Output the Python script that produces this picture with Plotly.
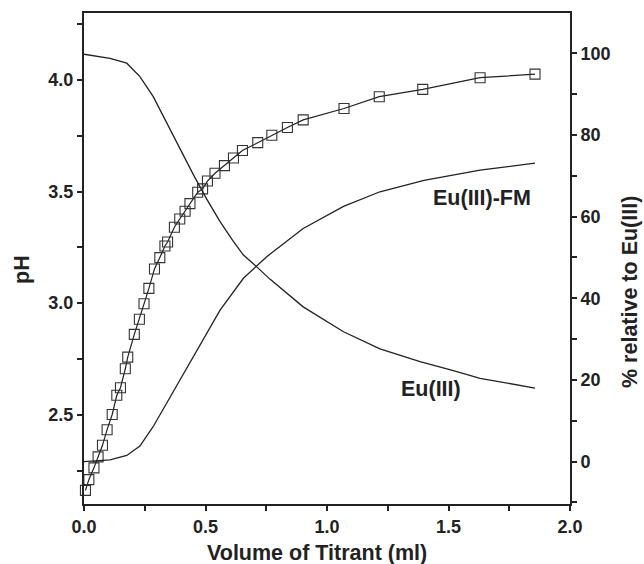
import plotly.graph_objects as go

# Titration data (pH vs volume of titrant)
titrant = [0.006, 0.020, 0.041, 0.058, 0.076, 0.095, 0.116, 0.135, 0.150, 0.170,
           0.180, 0.207, 0.228, 0.247, 0.267, 0.290, 0.312, 0.333, 0.344, 0.372,
           0.394, 0.416, 0.436, 0.468, 0.488, 0.508, 0.539, 0.578, 0.615, 0.652,
           0.715, 0.773, 0.837, 0.902, 1.070, 1.215, 1.394, 1.630, 1.856]
ph = [2.161, 2.209, 2.262, 2.311, 2.363, 2.433, 2.501, 2.587, 2.621, 2.706,
      2.758, 2.860, 2.928, 2.997, 3.066, 3.153, 3.204, 3.256, 3.274, 3.340,
      3.377, 3.412, 3.446, 3.497, 3.512, 3.547, 3.582, 3.616, 3.650, 3.684,
      3.719, 3.752, 3.787, 3.821, 3.872, 3.925, 3.958, 4.010, 4.026]

# Species distribution (% relative to Eu(III))
fm_x = [0, 0.107, 0.176, 0.230, 0.285, 0.340, 0.395, 0.450, 0.505, 0.560,
        0.656, 0.752, 0.902, 1.068, 1.218, 1.399, 1.630, 1.856]
fm_pct = [0.0, 0.4, 1.5, 3.8, 8.6, 14.3, 20.0, 25.7, 31.4, 37.1,
          44.9, 50.2, 57.1, 62.5, 66.1, 68.9, 71.4, 73.1]

eu_x = [0, 0.107, 0.176, 0.230, 0.285, 0.340, 0.395, 0.450, 0.505, 0.560,
        0.614, 0.656, 0.711, 0.765, 0.902, 1.068, 1.218, 1.383, 1.520, 1.630, 1.856]
eu_pct = [99.8, 98.8, 97.6, 94.3, 89.4, 82.9, 76.6, 70.3, 64.3, 58.8,
          54.0, 50.6, 47.7, 44.7, 37.9, 31.8, 27.6, 24.5, 22.3, 20.4, 18.0]

x_ticks = [0.0, 0.5, 1.0, 1.5, 2.0]
ph_ticks = [2.5, 3.0, 3.5, 4.0]
pct_ticks = [0, 20, 40, 60, 80, 100]

FONT = "Liberation Sans, Arial, Helvetica, sans-serif"
INK = "#222222"
W, H = 644, 564
L, R, T, B = 84, 74, 13, 60
PW, PH = W - L - R, H - T - B


def px(xp):
    return (xp - L) / PW


def py(yp):
    return (H - B - yp) / PH


fig = go.Figure()
fig.add_trace(go.Scatter(
    x=titrant, y=ph, mode="lines+markers", cliponaxis=False,
    line=dict(color=INK, width=1.2),
    marker=dict(symbol="square-open", size=10, color="#333333", line=dict(width=1.1)),
    showlegend=False))
fig.add_trace(go.Scatter(
    x=fm_x, y=fm_pct, mode="lines", yaxis="y2",
    line=dict(color=INK, width=1.3), showlegend=False))
fig.add_trace(go.Scatter(
    x=eu_x, y=eu_pct, mode="lines", yaxis="y2",
    line=dict(color=INK, width=1.3), showlegend=False))

axis_common = dict(
    showline=True, linecolor=INK, linewidth=2, ticks="outside", ticklen=5,
    tickwidth=1.5, tickcolor=INK, showgrid=False, zeroline=False,
    tickfont=dict(family=FONT, size=18, color=INK, weight="bold"),
)

title_font = dict(family=FONT, size=21.5, color=INK, weight="bold")
label_font = dict(family=FONT, size=21.5, color=INK, weight="bold")

fig.update_layout(
    width=W, height=H,
    margin=dict(l=L, r=R, t=T, b=B),
    plot_bgcolor="white", paper_bgcolor="white",
    xaxis=dict(
        range=[0, 2.0], tickvals=x_ticks, ticktext=[f"{v:.1f}" for v in x_ticks],
        mirror=True,
        minor=dict(ticks="outside", dtick=0.25, ticklen=5, tickwidth=1.5, tickcolor=INK),
        **axis_common),
    yaxis=dict(
        range=[2.1, 4.3], tickvals=ph_ticks, ticktext=[f"{v:.1f}" for v in ph_ticks],
        minor=dict(ticks="outside", dtick=0.25, tick0=2.0, ticklen=5, tickwidth=1.5, tickcolor=INK),
        **axis_common),
    yaxis2=dict(
        range=[-10.4, 109.9], overlaying="y", side="right",
        tickvals=pct_ticks, ticktext=[str(v) for v in pct_ticks],
        minor=dict(ticks="outside", dtick=10, ticklen=5, tickwidth=1.5, tickcolor=INK),
        **axis_common),
    annotations=[
        dict(x=px(316.5), y=py(553), xref="paper", yref="paper",
             xanchor="center", yanchor="middle",
             text="Volume of Titrant (ml)", showarrow=False, font=title_font),
        dict(x=px(22), y=py(270), xref="paper", yref="paper", textangle=-90,
             xanchor="center", yanchor="middle",
             text="pH", showarrow=False, font=title_font),
        dict(x=px(630), y=py(292), xref="paper", yref="paper", textangle=-90,
             xanchor="center", yanchor="middle",
             text="% relative to Eu(III)", showarrow=False, font=title_font),
        dict(x=1.636, y=64.6, xref="x", yref="y2", text="Eu(III)-FM", showarrow=False,
             xanchor="center", yanchor="middle", font=label_font),
        dict(x=1.43, y=17.8, xref="x", yref="y2", text="Eu(III)", showarrow=False,
             xanchor="center", yanchor="middle", font=label_font),
    ],
)

fig.write_html("out.html")
